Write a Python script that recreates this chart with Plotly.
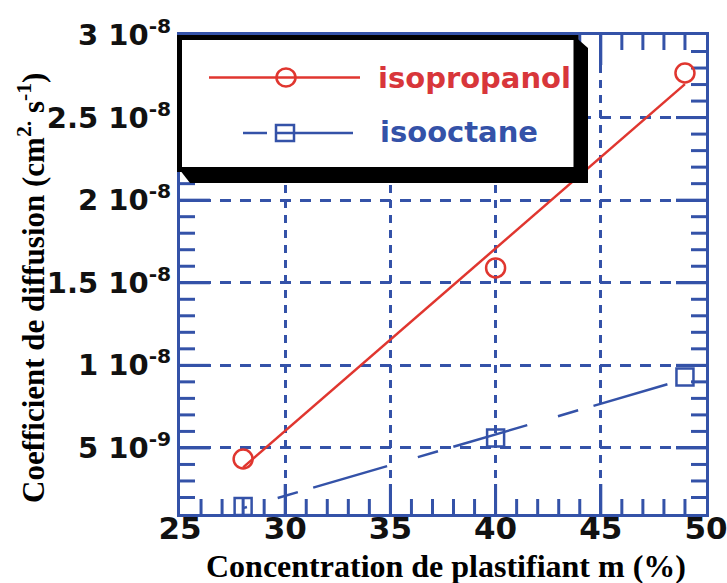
import numpy as np
import plotly.graph_objects as go

# Plasticizer concentration (%) and diffusion coefficients (cm^2 s^-1)
conc = [28, 40, 49]
d_isopropanol = [4.33e-9, 1.59e-8, 2.77e-8]
d_isooctane = [1.45e-9, 5.6e-9, 9.29e-9]

x_ticks = [25, 30, 35, 40, 45, 50]
y_ticks = [5e-9, 1e-8, 1.5e-8, 2e-8, 2.5e-8, 3e-8]
y_ticktext = ["5 10<sup>-9</sup>", "1 10<sup>-8</sup>", "1.5 10<sup>-8</sup>",
              "2 10<sup>-8</sup>", "2.5 10<sup>-8</sup>", "3 10<sup>-8</sup>"]

X_RANGE = [25, 50]
Y_RANGE = [1e-9, 3e-8]

# minor tick positions: every 1 % and every 1e-9
x_minor = [v for v in range(26, 50) if v % 5]
y_minor = [k * 1e-9 for k in range(2, 30) if k % 5]

RED = "#e0362f"
RED_TXT = "#d8363a"
BLUE = "#3452a8"

W, H = 727, 583
ML, MR, MT, MB = 180, 21, 35, 69
PW, PH = W - ML - MR, H - MT - MB
MAJOR_LEN, MINOR_LEN = 30, 15


def px(x):
    return (x - ML) / PW


def py(y):
    return (H - MB - y) / PH


# inward frame ticks on all four sides, built as one segmented line trace
dx = (X_RANGE[1] - X_RANGE[0]) / PW   # data units per pixel
dy = (Y_RANGE[1] - Y_RANGE[0]) / PH
tick_x, tick_y = [], []
for vals, length in ((x_ticks[1:-1], MAJOR_LEN), (x_minor, MINOR_LEN)):
    for v in vals:
        tick_x += [v, v, None, v, v, None]
        tick_y += [Y_RANGE[0], Y_RANGE[0] + length * dy, None,
                   Y_RANGE[1], Y_RANGE[1] - length * dy, None]
for vals, length in ((y_ticks[:-1], MAJOR_LEN), (y_minor, MINOR_LEN)):
    for v in vals:
        tick_x += [X_RANGE[0], X_RANGE[0] + length * dx, None,
                   X_RANGE[1], X_RANGE[1] - length * dx, None]
        tick_y += [v, v, None, v, v, None]

# least-squares lines through each series
xfit = np.array([conc[0], conc[-1]], dtype=float)
fit_ipa = np.polyval(np.polyfit(conc, d_isopropanol, 1), xfit)
fit_iso = np.polyval(np.polyfit(conc, d_isooctane, 1), xfit)

fig = go.Figure()

fig.add_trace(go.Scatter(
    x=tick_x, y=tick_y, mode="lines", connectgaps=False, cliponaxis=False,
    line=dict(color=BLUE, width=3), hoverinfo="skip", showlegend=False))
fig.add_trace(go.Scatter(
    x=xfit, y=fit_ipa, mode="lines",
    line=dict(color=RED, width=2.5), hoverinfo="skip", showlegend=False))
fig.add_trace(go.Scatter(
    x=xfit, y=fit_iso, mode="lines",
    line=dict(color=BLUE, width=2.5,
              dash="4px,32px,21px,16px,77px,32px,21px,16px,77px,32px,21px,16px,77px,32px"),
    hoverinfo="skip", showlegend=False))
fig.add_trace(go.Scatter(
    x=conc, y=d_isopropanol, mode="markers", name="isopropanol",
    marker=dict(symbol="circle-open", size=19, color=RED, line=dict(width=2.5)),
    cliponaxis=False, showlegend=False))
fig.add_trace(go.Scatter(
    x=conc, y=d_isooctane, mode="markers", name="isooctane",
    marker=dict(symbol="square-open", size=17, color=BLUE, line=dict(width=2.5)),
    cliponaxis=False, showlegend=False))

fig.update_layout(
    xaxis=dict(
        range=X_RANGE, tickvals=x_ticks, ticktext=[str(v) for v in x_ticks],
        ticks="inside", ticklen=MAJOR_LEN, tickwidth=3, tickcolor=BLUE,
        showline=True, linecolor=BLUE, linewidth=3, mirror="ticks",
        showgrid=True, gridcolor=BLUE, gridwidth=2.5, griddash="8px,7px",
        zeroline=False, automargin=False,
        ticklabelstandoff=-15, ticklabeloverflow="allow",
        tickfont=dict(family="DejaVu Sans", size=31, color="#111111", weight="bold")),
    yaxis=dict(
        range=Y_RANGE, tickvals=y_ticks, ticktext=y_ticktext,
        ticks="inside", ticklen=MAJOR_LEN, tickwidth=3, tickcolor=BLUE,
        showline=True, linecolor=BLUE, linewidth=3, mirror="ticks",
        showgrid=True, gridcolor=BLUE, gridwidth=2.5, griddash="11px,9px",
        zeroline=False, automargin=False, ticklabeloverflow="allow",
        tickfont=dict(family="DejaVu Sans", size=29, color="#111111", weight="bold")),
)

shapes = []
# legend frame with its extruded shadow
shadow = "M {} {} L {} {} L {} {} L {} {} L {} {} Z".format(
    px(576), py(37.5), px(588), py(48), px(588), py(183),
    px(190), py(183), px(179.5), py(169.5))
shapes.append(dict(type="path", path=shadow, xref="paper", yref="paper",
                   fillcolor="black", line=dict(width=0), layer="above"))
shapes.append(dict(type="rect", xref="paper", yref="paper",
                   x0=px(179.5), x1=px(576), y0=py(37.5), y1=py(169.5),
                   fillcolor="white", line=dict(color="black", width=5),
                   layer="above"))
# legend samples
shapes.append(dict(type="line", xref="paper", yref="paper",
                   x0=px(209), x1=px(360), y0=py(77.5), y1=py(77.5),
                   line=dict(color=RED, width=2.5), layer="above"))
shapes.append(dict(type="circle", xref="paper", yref="paper",
                   x0=px(276.5), x1=px(295.5), y0=py(68.5), y1=py(86.5),
                   line=dict(color=RED, width=2.5), layer="above"))
shapes.append(dict(type="line", xref="paper", yref="paper",
                   x0=px(243), x1=px(267), y0=py(133), y1=py(133),
                   line=dict(color=BLUE, width=2.5), layer="above"))
shapes.append(dict(type="line", xref="paper", yref="paper",
                   x0=px(275), x1=px(353), y0=py(133), y1=py(133),
                   line=dict(color=BLUE, width=2.5), layer="above"))
shapes.append(dict(type="rect", xref="paper", yref="paper",
                   x0=px(276), x1=px(294), y0=py(125), y1=py(141),
                   line=dict(color=BLUE, width=2.5), layer="above"))

annotations = [
    dict(text="isopropanol", x=px(376), y=py(78), xref="paper", yref="paper",
         xanchor="left", yanchor="middle", showarrow=False,
         font=dict(family="DejaVu Sans", size=29, color=RED_TXT, weight="bold")),
    dict(text="isooctane", x=px(378), y=py(132), xref="paper", yref="paper",
         xanchor="left", yanchor="middle", showarrow=False,
         font=dict(family="DejaVu Sans", size=29, color=BLUE, weight="bold")),
    dict(text="Concentration de plastifiant m (%)", x=px(446), y=py(566),
         xref="paper", yref="paper", xanchor="center", yanchor="middle",
         showarrow=False,
         font=dict(family="Liberation Serif", size=32, color="black", weight="bold")),
    dict(text="Coefficient de diffusion (cm<sup>2.</sup> s<sup>-1</sup>)",
         x=px(31), y=py(288), xref="paper", yref="paper", textangle=-90,
         xanchor="center", yanchor="middle", showarrow=False,
         font=dict(family="Liberation Serif", size=31, color="black", weight="bold")),
]

fig.update_layout(
    width=W, height=H,
    margin=dict(l=ML, r=MR, t=MT, b=MB),
    paper_bgcolor="white", plot_bgcolor="white",
    showlegend=False,
    shapes=shapes, annotations=annotations,
)

fig.write_html("out.html")
